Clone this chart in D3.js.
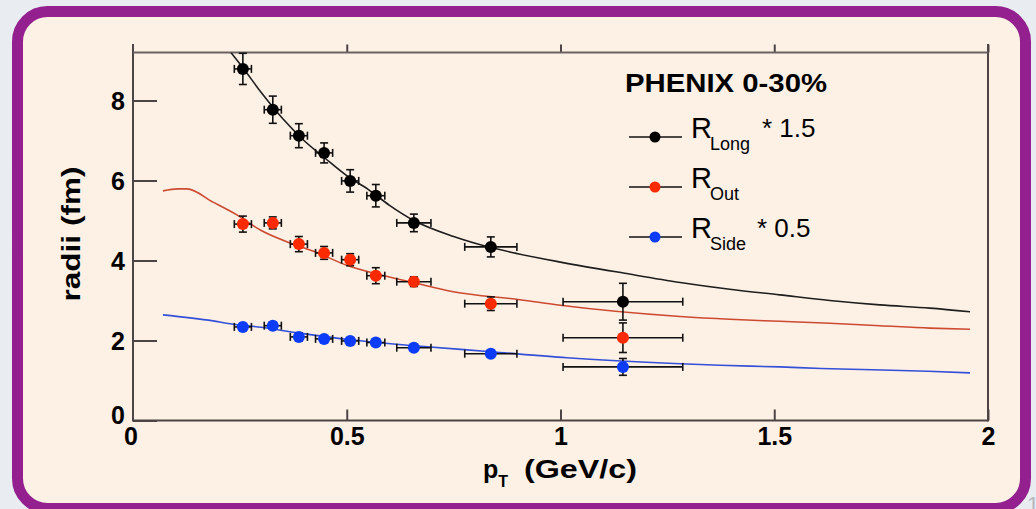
<html>
<head>
<meta charset="utf-8">
<title>PHENIX HBT radii</title>
<style>
  body { margin: 0; background: #e9edf2; }
  svg { display: block; }
  text { font-family: "Liberation Sans", Arial, sans-serif; }
  .tick text { font-weight: bold; font-size: 25px; fill: #000; }
  .tick line { stroke: #4d4545; stroke-width: 2; }
</style>
</head>
<body>
<div id="chart"></div>
<script src="https://d3js.org/d3.v7.min.js"></script>
<script>
// measured points (same pT bins for the three radii)
var ptBins = [0.257, 0.327, 0.388, 0.447, 0.508, 0.568, 0.657, 0.837, 1.146];
var ptErr  = [0.02, 0.02, 0.02, 0.02, 0.02, 0.021, 0.04, 0.061, 0.14];

var rLong    = [8.79, 7.77, 7.12, 6.69, 5.99, 5.62, 4.94, 4.34, 2.97];
var rLongErr = [0.39, 0.34, 0.30, 0.25, 0.28, 0.28, 0.22, 0.25, 0.46];
var rOut     = [4.91, 4.94, 4.41, 4.19, 4.02, 3.62, 3.47, 2.92, 2.07];
var rOutErr  = [0.20, 0.15, 0.19, 0.16, 0.15, 0.20, 0.12, 0.17, 0.37];
var rSide    = [2.34, 2.37, 2.09, 2.04, 1.99, 1.95, 1.82, 1.67, 1.34];
var rSideErr = [0.08, 0.08, 0.10, 0.08, 0.08, 0.08, 0.08, 0.08, 0.21];

// model curves
var longFitX = [0.229, 0.257, 0.3, 0.35, 0.4, 0.45, 0.5, 0.55, 0.6, 0.657, 0.75, 0.835, 0.9, 1.0, 1.15, 1.28, 1.396, 1.513, 1.63, 1.747, 1.864, 1.958];
var longFitY = [9.2, 8.82, 8.2, 7.55, 7.0, 6.55, 6.12, 5.78, 5.38, 5.0, 4.6, 4.33, 4.17, 3.96, 3.68, 3.45, 3.28, 3.14, 3.0, 2.89, 2.81, 2.72];
var outFitX  = [0.07, 0.105, 0.126, 0.187, 0.243, 0.3, 0.367, 0.43, 0.5, 0.571, 0.655, 0.749, 0.905, 1.0, 1.28, 1.396, 1.513, 1.63, 1.747, 1.864, 1.958];
var outFitY  = [5.74, 5.79, 5.79, 5.46, 5.14, 4.75, 4.44, 4.2, 3.88, 3.66, 3.45, 3.22, 3.02, 2.88, 2.6, 2.53, 2.48, 2.43, 2.37, 2.31, 2.28];
var sideFitX = [0.07, 0.187, 0.227, 0.3, 0.386, 0.508, 0.657, 0.837, 1.015, 1.28, 1.373, 1.513, 1.61, 1.73, 1.86, 1.958];
var sideFitY = [2.64, 2.49, 2.42, 2.33, 2.19, 2.02, 1.87, 1.72, 1.57, 1.42, 1.38, 1.34, 1.30, 1.27, 1.23, 1.19];

var seriesNames = ["Long", "Out", "Side"];
var seriesScale = ["* 1.5", "", "* 0.5"];
var markerColors = ["#000000", "#fb2a00", "#0c3cf7"];
var curveColors  = ["#1e1e1e", "#cc4a30", "#3350d8"];

var xTicks = [0, 0.5, 1, 1.5, 2];
var yTicks = [0, 2, 4, 6, 8];

var width = 1036, height = 509;
var plotL = 133, plotR = 988, plotT = 52.5, plotB = 420.5;

var svg = d3.select("#chart").append("svg")
    .attr("width", width)
    .attr("height", height);

// slide frame
svg.append("rect")
    .attr("width", width).attr("height", height)
    .attr("fill", "#e9edf2");

svg.append("text")
    .attr("x", 1027).attr("y", 512)
    .attr("fill", "#b4b8bd")
    .style("font-size", "22px")
    .text("1");

svg.append("rect")
    .attr("x", 17.5).attr("y", 11.5)
    .attr("width", 1008).attr("height", 497)
    .attr("rx", 30).attr("ry", 30)
    .attr("fill", "#fdf0e5")
    .attr("stroke", "#93208e")
    .attr("stroke-width", 11);

var x = d3.scaleLinear().domain([0, 2]).range([plotL, plotR]);
var y = d3.scaleLinear().domain([0, 9.2]).range([plotB, plotT]);

// axes
svg.append("g")
    .attr("transform", "translate(" + plotL + ",0)")
    .call(d3.axisLeft(y).tickValues(yTicks).tickSize(-24).tickPadding(8).tickFormat(d3.format("")))
    .call(function(g){ g.select(".domain").remove(); })
    .selectAll(".tick text").attr("dy", function(d){ return d === 0 ? "0.1em" : "0.36em"; });

svg.append("g")
    .attr("transform", "translate(0," + plotB + ")")
    .call(d3.axisBottom(x).tickValues(xTicks).tickSize(-11).tickPadding(7).tickFormat(d3.format("")))
    .call(function(g){
        g.select(".domain").remove();
        g.select(".tick line").remove();
        g.select(".tick text").attr("dx", "-0.1em");
    });

svg.append("g")
    .attr("transform", "translate(0," + plotT + ")")
    .call(d3.axisTop(x).tickValues(xTicks.slice(1)).tickSize(8).tickFormat(""))
    .call(function(g){ g.select(".domain").remove(); });

var frame = svg.append("g").attr("stroke", "#4d4545").attr("stroke-width", 2);
frame.append("line").attr("x1", plotL).attr("x2", plotL).attr("y1", 44).attr("y2", plotB + 1);
frame.append("line").attr("x1", plotR).attr("x2", plotR).attr("y1", 44).attr("y2", plotB + 1);
frame.append("line").attr("x1", plotL).attr("x2", plotR).attr("y1", plotB).attr("y2", plotB);
frame.append("line").attr("x1", plotL).attr("x2", plotR).attr("y1", plotT).attr("y2", plotT)
    .attr("stroke", "#6a6262");

// axis titles
svg.append("text")
    .attr("transform", "translate(80,234) rotate(-90)")
    .attr("text-anchor", "middle")
    .attr("textLength", 135)
    .attr("lengthAdjust", "spacingAndGlyphs")
    .style("font-size", "25px").style("font-weight", "bold")
    .text("radii (fm)");

var xt = svg.append("text")
    .attr("x", 483).attr("y", 478)
    .style("font-size", "25px").style("font-weight", "bold");
xt.append("tspan").text("p");
xt.append("tspan").attr("dy", 9).style("font-size", "16px").text("T");
svg.append("text")
    .attr("x", 524).attr("y", 478)
    .attr("textLength", 113)
    .attr("lengthAdjust", "spacingAndGlyphs")
    .style("font-size", "25px").style("font-weight", "bold")
    .text("(GeV/c)");

// fit curves
svg.append("clipPath").attr("id", "plot-clip")
  .append("rect")
    .attr("x", plotL).attr("y", plotT)
    .attr("width", plotR - plotL).attr("height", plotB - plotT);

var line = d3.line()
    .x(function(d){ return x(d[0]); })
    .y(function(d){ return y(d[1]); })
    .curve(d3.curveMonotoneX);

var fits = [d3.zip(longFitX, longFitY), d3.zip(outFitX, outFitY), d3.zip(sideFitX, sideFitY)];

svg.append("g").attr("clip-path", "url(#plot-clip)")
  .selectAll("path")
  .data(fits)
  .enter().append("path")
    .attr("d", line)
    .attr("fill", "none")
    .attr("stroke", function(d, i){ return curveColors[i]; })
    .attr("stroke-width", 1.6);

// data points with error bars
var series = [[rLong, rLongErr], [rOut, rOutErr], [rSide, rSideErr]];
var cap = 4;

series.forEach(function(s, si){
    var g = svg.append("g");
    var pts = ptBins.map(function(px, i){
        return { x: px, xe: ptErr[i], y: s[0][i], ye: s[1][i] };
    });

    var bars = g.selectAll(".err")
        .data(pts)
        .enter().append("g")
        .attr("stroke", "#111")
        .attr("stroke-width", 1.6);

    bars.append("line")
        .attr("x1", function(d){ return x(d.x - d.xe); })
        .attr("x2", function(d){ return x(d.x + d.xe); })
        .attr("y1", function(d){ return y(d.y); })
        .attr("y2", function(d){ return y(d.y); });
    bars.append("line")
        .attr("x1", function(d){ return x(d.x); })
        .attr("x2", function(d){ return x(d.x); })
        .attr("y1", function(d){ return y(d.y - d.ye); })
        .attr("y2", function(d){ return y(d.y + d.ye); });
    [-1, 1].forEach(function(sgn){
        bars.append("line")
            .attr("x1", function(d){ return x(d.x + sgn * d.xe); })
            .attr("x2", function(d){ return x(d.x + sgn * d.xe); })
            .attr("y1", function(d){ return y(d.y) - cap; })
            .attr("y2", function(d){ return y(d.y) + cap; });
        bars.append("line")
            .attr("x1", function(d){ return x(d.x) - cap; })
            .attr("x2", function(d){ return x(d.x) + cap; })
            .attr("y1", function(d){ return y(d.y + sgn * d.ye); })
            .attr("y2", function(d){ return y(d.y + sgn * d.ye); });
    });

    g.selectAll("circle")
        .data(pts)
        .enter().append("circle")
        .attr("cx", function(d){ return x(d.x); })
        .attr("cy", function(d){ return y(d.y); })
        .attr("r", 6)
        .attr("fill", markerColors[si]);
});

// legend
svg.append("text")
    .attr("x", 625).attr("y", 92)
    .attr("textLength", 202)
    .attr("lengthAdjust", "spacingAndGlyphs")
    .style("font-size", "26px").style("font-weight", "bold")
    .text("PHENIX 0-30%");

var legendRows = [137, 187, 237];

var legend = svg.append("g")
    .selectAll("g")
    .data(seriesNames)
    .enter().append("g")
    .attr("transform", function(d, i){ return "translate(0," + legendRows[i] + ")"; });

legend.append("line")
    .attr("x1", 629).attr("x2", 682)
    .attr("stroke", "#111").attr("stroke-width", 1.5);
legend.append("circle")
    .attr("cx", 655).attr("r", 5.5)
    .attr("fill", function(d, i){ return markerColors[i]; });

var lt = legend.append("text")
    .attr("x", 691).attr("y", 1)
    .style("font-size", "29px");
lt.append("tspan").text("R");
lt.append("tspan").attr("dx", -2).attr("dy", 12).style("font-size", "18px").text(function(d){ return d; });

legend.append("text")
    .attr("x", function(d, i){ return i === 0 ? 762 : 757; })
    .attr("y", 0)
    .style("font-size", "26px")
    .attr("xml:space", "preserve")
    .text(function(d, i){ return seriesScale[i]; });
</script>
</body>
</html>
